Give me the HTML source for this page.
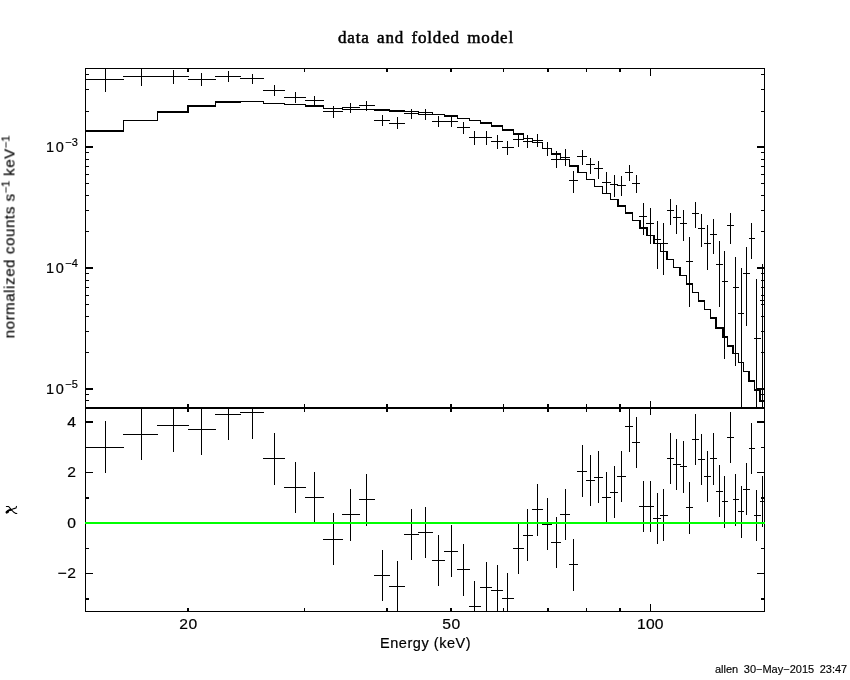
<!DOCTYPE html>
<html><head><meta charset="utf-8"><title>data and folded model</title>
<style>
html,body{margin:0;padding:0;background:#fff;}
body{width:850px;height:680px;position:relative;overflow:hidden;font-family:"Liberation Sans",sans-serif;color:#000;}
svg{position:absolute;left:0;top:0;}
.t{position:absolute;white-space:nowrap;line-height:1;font-size:14.5px;-webkit-text-stroke:0.2px #000;will-change:transform;}
.d{letter-spacing:0.5px;transform:scaleX(1.08);transform-origin:100% 50%;}
.c{transform-origin:50% 50%;}
.p{letter-spacing:1.6px;transform:none;}
sup.s2{top:-5px;}
.r{text-align:right;}
sup{font-size:11px;vertical-align:baseline;position:relative;top:-6px;left:0px;line-height:0;letter-spacing:0;}
</style></head><body>
<svg width="850" height="680" viewBox="0 0 850 680" shape-rendering="crispEdges" fill="#000">
<rect x="85" y="68" width="680" height="1"/>
<rect x="85" y="611" width="680" height="1"/>
<rect x="85" y="68" width="1" height="544"/>
<rect x="764" y="68" width="1" height="544"/>
<rect x="85" y="407" width="680" height="2"/>
<rect x="187" y="68" width="2" height="4"/>
<rect x="187" y="404" width="2" height="8"/>
<rect x="187" y="608" width="2" height="4"/>
<rect x="304" y="68" width="1" height="4"/>
<rect x="304" y="404" width="1" height="8"/>
<rect x="304" y="608" width="1" height="4"/>
<rect x="386" y="68" width="2" height="4"/>
<rect x="386" y="404" width="2" height="8"/>
<rect x="386" y="608" width="2" height="4"/>
<rect x="450" y="68" width="2" height="4"/>
<rect x="450" y="404" width="2" height="8"/>
<rect x="450" y="608" width="2" height="4"/>
<rect x="503" y="68" width="1" height="4"/>
<rect x="503" y="404" width="1" height="8"/>
<rect x="503" y="608" width="1" height="4"/>
<rect x="547" y="68" width="2" height="4"/>
<rect x="547" y="404" width="2" height="8"/>
<rect x="547" y="608" width="2" height="4"/>
<rect x="586" y="68" width="1" height="4"/>
<rect x="586" y="404" width="1" height="8"/>
<rect x="586" y="608" width="1" height="4"/>
<rect x="619" y="68" width="2" height="4"/>
<rect x="619" y="404" width="2" height="8"/>
<rect x="619" y="608" width="2" height="4"/>
<rect x="650" y="68" width="1" height="8"/>
<rect x="650" y="401" width="1" height="14"/>
<rect x="650" y="604" width="1" height="8"/>
<rect x="85" y="400" width="4" height="1"/>
<rect x="761" y="400" width="4" height="1"/>
<rect x="85" y="394" width="4" height="1"/>
<rect x="761" y="394" width="4" height="1"/>
<rect x="85" y="388" width="8" height="2"/>
<rect x="757" y="388" width="8" height="2"/>
<rect x="85" y="352" width="4" height="1"/>
<rect x="761" y="352" width="4" height="1"/>
<rect x="85" y="331" width="4" height="1"/>
<rect x="761" y="331" width="4" height="1"/>
<rect x="85" y="316" width="4" height="1"/>
<rect x="761" y="316" width="4" height="1"/>
<rect x="85" y="304" width="4" height="1"/>
<rect x="761" y="304" width="4" height="1"/>
<rect x="85" y="295" width="4" height="1"/>
<rect x="761" y="295" width="4" height="1"/>
<rect x="85" y="287" width="4" height="1"/>
<rect x="761" y="287" width="4" height="1"/>
<rect x="85" y="280" width="4" height="1"/>
<rect x="761" y="280" width="4" height="1"/>
<rect x="85" y="273" width="4" height="1"/>
<rect x="761" y="273" width="4" height="1"/>
<rect x="85" y="267" width="8" height="2"/>
<rect x="757" y="267" width="8" height="2"/>
<rect x="85" y="231" width="4" height="1"/>
<rect x="761" y="231" width="4" height="1"/>
<rect x="85" y="210" width="4" height="1"/>
<rect x="761" y="210" width="4" height="1"/>
<rect x="85" y="195" width="4" height="1"/>
<rect x="761" y="195" width="4" height="1"/>
<rect x="85" y="183" width="4" height="1"/>
<rect x="761" y="183" width="4" height="1"/>
<rect x="85" y="174" width="4" height="1"/>
<rect x="761" y="174" width="4" height="1"/>
<rect x="85" y="166" width="4" height="1"/>
<rect x="761" y="166" width="4" height="1"/>
<rect x="85" y="159" width="4" height="1"/>
<rect x="761" y="159" width="4" height="1"/>
<rect x="85" y="152" width="4" height="1"/>
<rect x="761" y="152" width="4" height="1"/>
<rect x="85" y="146" width="8" height="2"/>
<rect x="757" y="146" width="8" height="2"/>
<rect x="85" y="111" width="4" height="1"/>
<rect x="761" y="111" width="4" height="1"/>
<rect x="85" y="89" width="4" height="1"/>
<rect x="761" y="89" width="4" height="1"/>
<rect x="85" y="74" width="4" height="1"/>
<rect x="761" y="74" width="4" height="1"/>
<rect x="85" y="598" width="4" height="2"/>
<rect x="761" y="598" width="4" height="2"/>
<rect x="85" y="573" width="8" height="1"/>
<rect x="757" y="573" width="8" height="1"/>
<rect x="85" y="548" width="4" height="1"/>
<rect x="761" y="548" width="4" height="1"/>
<rect x="85" y="522" width="8" height="1"/>
<rect x="757" y="522" width="8" height="1"/>
<rect x="85" y="497" width="4" height="2"/>
<rect x="761" y="497" width="4" height="2"/>
<rect x="85" y="472" width="8" height="1"/>
<rect x="757" y="472" width="8" height="1"/>
<rect x="85" y="447" width="4" height="1"/>
<rect x="761" y="447" width="4" height="1"/>
<rect x="85" y="421" width="8" height="2"/>
<rect x="757" y="421" width="8" height="2"/>
<rect x="85" y="130" width="39" height="2"/>
<rect x="123" y="120" width="1" height="12"/>
<rect x="123" y="120" width="35" height="1"/>
<rect x="157" y="111" width="1" height="10"/>
<rect x="157" y="111" width="32" height="2"/>
<rect x="187" y="105" width="2" height="8"/>
<rect x="188" y="105" width="28" height="2"/>
<rect x="215" y="101" width="1" height="6"/>
<rect x="215" y="101" width="26" height="2"/>
<rect x="240" y="101" width="1" height="1"/>
<rect x="240" y="101" width="24" height="1"/>
<rect x="263" y="101" width="1" height="3"/>
<rect x="263" y="103" width="22" height="1"/>
<rect x="284" y="103" width="1" height="2"/>
<rect x="284" y="104" width="22" height="1"/>
<rect x="305" y="104" width="1" height="3"/>
<rect x="305" y="105" width="19" height="2"/>
<rect x="323" y="105" width="1" height="4"/>
<rect x="323" y="108" width="20" height="1"/>
<rect x="342" y="108" width="1" height="2"/>
<rect x="342" y="109" width="18" height="1"/>
<rect x="359" y="109" width="1" height="1"/>
<rect x="359" y="109" width="16" height="1"/>
<rect x="374" y="109" width="1" height="2"/>
<rect x="374" y="109" width="16" height="2"/>
<rect x="389" y="109" width="1" height="3"/>
<rect x="389" y="110" width="16" height="2"/>
<rect x="404" y="110" width="1" height="2"/>
<rect x="404" y="111" width="15" height="1"/>
<rect x="418" y="111" width="1" height="2"/>
<rect x="418" y="112" width="15" height="1"/>
<rect x="432" y="112" width="1" height="3"/>
<rect x="432" y="114" width="13" height="1"/>
<rect x="444" y="114" width="1" height="3"/>
<rect x="444" y="115" width="14" height="2"/>
<rect x="457" y="115" width="1" height="4"/>
<rect x="457" y="118" width="13" height="1"/>
<rect x="469" y="118" width="1" height="3"/>
<rect x="469" y="120" width="12" height="1"/>
<rect x="480" y="120" width="1" height="4"/>
<rect x="480" y="122" width="12" height="2"/>
<rect x="491" y="122" width="1" height="5"/>
<rect x="491" y="125" width="12" height="2"/>
<rect x="502" y="125" width="1" height="6"/>
<rect x="502" y="129" width="12" height="2"/>
<rect x="513" y="129" width="1" height="6"/>
<rect x="513" y="133" width="11" height="2"/>
<rect x="523" y="133" width="1" height="6"/>
<rect x="523" y="138" width="10" height="1"/>
<rect x="532" y="138" width="1" height="5"/>
<rect x="532" y="142" width="11" height="1"/>
<rect x="542" y="142" width="1" height="7"/>
<rect x="542" y="148" width="10" height="1"/>
<rect x="551" y="148" width="1" height="7"/>
<rect x="551" y="153" width="10" height="2"/>
<rect x="560" y="153" width="1" height="7"/>
<rect x="560" y="159" width="10" height="1"/>
<rect x="569" y="159" width="1" height="8"/>
<rect x="569" y="165" width="9" height="2"/>
<rect x="577" y="165" width="2" height="8"/>
<rect x="577" y="172" width="10" height="1"/>
<rect x="586" y="172" width="1" height="8"/>
<rect x="586" y="179" width="9" height="1"/>
<rect x="594" y="179" width="1" height="8"/>
<rect x="594" y="186" width="9" height="1"/>
<rect x="602" y="186" width="1" height="8"/>
<rect x="602" y="193" width="9" height="1"/>
<rect x="610" y="193" width="1" height="7"/>
<rect x="610" y="199" width="8" height="1"/>
<rect x="617" y="199" width="2" height="8"/>
<rect x="617" y="205" width="9" height="2"/>
<rect x="625" y="205" width="1" height="9"/>
<rect x="625" y="212" width="8" height="2"/>
<rect x="632" y="212" width="1" height="9"/>
<rect x="632" y="220" width="8" height="1"/>
<rect x="639" y="220" width="2" height="9"/>
<rect x="639" y="227" width="8" height="2"/>
<rect x="646" y="227" width="2" height="9"/>
<rect x="646" y="235" width="8" height="1"/>
<rect x="653" y="235" width="2" height="9"/>
<rect x="653" y="243" width="8" height="1"/>
<rect x="660" y="243" width="1" height="9"/>
<rect x="660" y="251" width="8" height="1"/>
<rect x="666" y="251" width="2" height="9"/>
<rect x="667" y="259" width="7" height="1"/>
<rect x="673" y="259" width="1" height="9"/>
<rect x="673" y="267" width="8" height="1"/>
<rect x="679" y="267" width="2" height="9"/>
<rect x="680" y="275" width="7" height="1"/>
<rect x="686" y="275" width="1" height="10"/>
<rect x="686" y="283" width="7" height="2"/>
<rect x="692" y="283" width="1" height="10"/>
<rect x="692" y="292" width="7" height="1"/>
<rect x="698" y="292" width="1" height="10"/>
<rect x="698" y="300" width="7" height="2"/>
<rect x="704" y="300" width="1" height="10"/>
<rect x="704" y="309" width="7" height="1"/>
<rect x="710" y="309" width="1" height="10"/>
<rect x="710" y="317" width="7" height="2"/>
<rect x="715" y="317" width="2" height="12"/>
<rect x="716" y="327" width="7" height="2"/>
<rect x="722" y="327" width="2" height="11"/>
<rect x="722" y="336" width="6" height="2"/>
<rect x="727" y="336" width="1" height="11"/>
<rect x="727" y="345" width="7" height="2"/>
<rect x="732" y="345" width="2" height="9"/>
<rect x="733" y="353" width="6" height="1"/>
<rect x="738" y="353" width="1" height="10"/>
<rect x="738" y="362" width="6" height="1"/>
<rect x="743" y="362" width="1" height="10"/>
<rect x="743" y="371" width="7" height="1"/>
<rect x="748" y="371" width="2" height="11"/>
<rect x="749" y="380" width="6" height="2"/>
<rect x="754" y="380" width="1" height="11"/>
<rect x="754" y="389" width="7" height="2"/>
<rect x="759" y="389" width="2" height="13"/>
<rect x="760" y="400" width="5" height="2"/>
<rect x="85" y="79" width="39" height="1"/>
<rect x="105" y="69" width="1" height="23"/>
<rect x="123" y="76" width="35" height="1"/>
<rect x="141" y="69" width="1" height="17"/>
<rect x="157" y="76" width="32" height="1"/>
<rect x="173" y="70" width="1" height="14"/>
<rect x="188" y="79" width="28" height="1"/>
<rect x="201" y="73" width="1" height="13"/>
<rect x="215" y="76" width="26" height="1"/>
<rect x="228" y="71" width="1" height="11"/>
<rect x="240" y="78" width="24" height="1"/>
<rect x="252" y="74" width="1" height="10"/>
<rect x="263" y="90" width="22" height="1"/>
<rect x="274" y="85" width="1" height="11"/>
<rect x="284" y="97" width="22" height="1"/>
<rect x="295" y="92" width="1" height="11"/>
<rect x="305" y="100" width="19" height="1"/>
<rect x="314" y="96" width="1" height="10"/>
<rect x="323" y="111" width="20" height="1"/>
<rect x="333" y="106" width="1" height="12"/>
<rect x="342" y="107" width="18" height="1"/>
<rect x="350" y="103" width="1" height="10"/>
<rect x="359" y="105" width="16" height="1"/>
<rect x="366" y="101" width="1" height="10"/>
<rect x="374" y="120" width="16" height="1"/>
<rect x="382" y="115" width="1" height="11"/>
<rect x="389" y="123" width="16" height="1"/>
<rect x="397" y="117" width="1" height="12"/>
<rect x="404" y="113" width="15" height="1"/>
<rect x="411" y="109" width="1" height="10"/>
<rect x="418" y="114" width="15" height="1"/>
<rect x="425" y="109" width="1" height="11"/>
<rect x="432" y="121" width="13" height="1"/>
<rect x="438" y="116" width="1" height="11"/>
<rect x="444" y="121" width="14" height="1"/>
<rect x="451" y="116" width="1" height="11"/>
<rect x="457" y="127" width="13" height="1"/>
<rect x="463" y="122" width="1" height="12"/>
<rect x="469" y="137" width="12" height="1"/>
<rect x="474" y="131" width="1" height="14"/>
<rect x="480" y="137" width="12" height="1"/>
<rect x="486" y="131" width="1" height="14"/>
<rect x="491" y="141" width="12" height="1"/>
<rect x="497" y="135" width="1" height="14"/>
<rect x="502" y="147" width="12" height="1"/>
<rect x="507" y="141" width="1" height="14"/>
<rect x="513" y="139" width="11" height="1"/>
<rect x="518" y="133" width="1" height="14"/>
<rect x="523" y="141" width="10" height="1"/>
<rect x="527" y="135" width="1" height="13"/>
<rect x="532" y="140" width="11" height="1"/>
<rect x="537" y="134" width="1" height="13"/>
<rect x="542" y="148" width="10" height="1"/>
<rect x="547" y="142" width="1" height="14"/>
<rect x="551" y="159" width="10" height="1"/>
<rect x="556" y="151" width="1" height="17"/>
<rect x="560" y="157" width="10" height="1"/>
<rect x="565" y="149" width="1" height="17"/>
<rect x="569" y="180" width="9" height="1"/>
<rect x="573" y="171" width="1" height="22"/>
<rect x="577" y="156" width="10" height="1"/>
<rect x="582" y="150" width="1" height="15"/>
<rect x="586" y="164" width="9" height="1"/>
<rect x="590" y="158" width="1" height="16"/>
<rect x="594" y="168" width="9" height="1"/>
<rect x="598" y="161" width="1" height="18"/>
<rect x="602" y="182" width="9" height="1"/>
<rect x="606" y="172" width="1" height="21"/>
<rect x="610" y="184" width="8" height="1"/>
<rect x="614" y="175" width="1" height="22"/>
<rect x="617" y="185" width="9" height="1"/>
<rect x="621" y="176" width="1" height="20"/>
<rect x="625" y="172" width="8" height="1"/>
<rect x="629" y="165" width="1" height="16"/>
<rect x="632" y="183" width="8" height="1"/>
<rect x="636" y="175" width="1" height="18"/>
<rect x="639" y="216" width="8" height="1"/>
<rect x="643" y="203" width="1" height="32"/>
<rect x="646" y="223" width="8" height="1"/>
<rect x="650" y="208" width="1" height="36"/>
<rect x="653" y="239" width="8" height="1"/>
<rect x="657" y="221" width="1" height="48"/>
<rect x="660" y="243" width="8" height="1"/>
<rect x="663" y="223" width="1" height="52"/>
<rect x="667" y="210" width="7" height="1"/>
<rect x="670" y="199" width="1" height="26"/>
<rect x="673" y="217" width="8" height="1"/>
<rect x="676" y="205" width="1" height="29"/>
<rect x="680" y="223" width="7" height="1"/>
<rect x="683" y="210" width="1" height="31"/>
<rect x="686" y="261" width="7" height="1"/>
<rect x="689" y="237" width="1" height="70"/>
<rect x="692" y="213" width="7" height="1"/>
<rect x="695" y="202" width="1" height="26"/>
<rect x="698" y="228" width="7" height="1"/>
<rect x="701" y="214" width="1" height="33"/>
<rect x="704" y="243" width="7" height="1"/>
<rect x="707" y="225" width="1" height="45"/>
<rect x="710" y="234" width="7" height="1"/>
<rect x="713" y="219" width="1" height="35"/>
<rect x="716" y="264" width="7" height="1"/>
<rect x="719" y="241" width="1" height="66"/>
<rect x="722" y="281" width="6" height="1"/>
<rect x="724" y="251" width="1" height="108"/>
<rect x="727" y="225" width="7" height="1"/>
<rect x="730" y="213" width="1" height="31"/>
<rect x="733" y="287" width="6" height="1"/>
<rect x="735" y="257" width="1" height="109"/>
<rect x="738" y="313" width="6" height="1"/>
<rect x="741" y="268" width="1" height="140"/>
<rect x="743" y="273" width="7" height="1"/>
<rect x="746" y="247" width="1" height="79"/>
<rect x="749" y="238" width="6" height="1"/>
<rect x="751" y="223" width="1" height="36"/>
<rect x="754" y="338" width="7" height="1"/>
<rect x="756" y="279" width="1" height="129"/>
<rect x="760" y="300" width="5" height="1"/>
<rect x="762" y="264" width="1" height="144"/>
<rect x="85" y="447" width="39" height="1"/>
<rect x="105" y="421" width="1" height="52"/>
<rect x="123" y="434" width="35" height="1"/>
<rect x="141" y="408" width="1" height="52"/>
<rect x="157" y="425" width="32" height="1"/>
<rect x="173" y="408" width="1" height="44"/>
<rect x="188" y="429" width="28" height="1"/>
<rect x="201" y="408" width="1" height="47"/>
<rect x="215" y="414" width="26" height="1"/>
<rect x="228" y="408" width="1" height="32"/>
<rect x="240" y="412" width="24" height="1"/>
<rect x="252" y="408" width="1" height="31"/>
<rect x="263" y="458" width="22" height="1"/>
<rect x="274" y="433" width="1" height="52"/>
<rect x="284" y="487" width="22" height="1"/>
<rect x="295" y="462" width="1" height="51"/>
<rect x="305" y="497" width="19" height="1"/>
<rect x="314" y="472" width="1" height="51"/>
<rect x="323" y="539" width="20" height="1"/>
<rect x="333" y="513" width="1" height="52"/>
<rect x="342" y="514" width="18" height="1"/>
<rect x="350" y="489" width="1" height="52"/>
<rect x="359" y="499" width="16" height="1"/>
<rect x="366" y="474" width="1" height="52"/>
<rect x="374" y="575" width="16" height="1"/>
<rect x="382" y="550" width="1" height="51"/>
<rect x="389" y="586" width="16" height="1"/>
<rect x="397" y="561" width="1" height="51"/>
<rect x="404" y="534" width="15" height="1"/>
<rect x="411" y="509" width="1" height="51"/>
<rect x="418" y="532" width="15" height="1"/>
<rect x="425" y="507" width="1" height="51"/>
<rect x="432" y="560" width="13" height="1"/>
<rect x="438" y="535" width="1" height="51"/>
<rect x="444" y="551" width="14" height="1"/>
<rect x="451" y="525" width="1" height="52"/>
<rect x="457" y="569" width="13" height="1"/>
<rect x="463" y="544" width="1" height="52"/>
<rect x="469" y="606" width="12" height="1"/>
<rect x="474" y="581" width="1" height="31"/>
<rect x="480" y="587" width="12" height="1"/>
<rect x="486" y="562" width="1" height="50"/>
<rect x="491" y="590" width="12" height="1"/>
<rect x="497" y="565" width="1" height="47"/>
<rect x="502" y="598" width="12" height="1"/>
<rect x="507" y="573" width="1" height="39"/>
<rect x="513" y="548" width="11" height="1"/>
<rect x="518" y="523" width="1" height="51"/>
<rect x="523" y="535" width="10" height="1"/>
<rect x="527" y="509" width="1" height="52"/>
<rect x="532" y="509" width="11" height="1"/>
<rect x="537" y="484" width="1" height="52"/>
<rect x="542" y="524" width="10" height="1"/>
<rect x="547" y="498" width="1" height="52"/>
<rect x="551" y="542" width="10" height="1"/>
<rect x="556" y="517" width="1" height="51"/>
<rect x="560" y="514" width="10" height="1"/>
<rect x="565" y="489" width="1" height="51"/>
<rect x="569" y="564" width="9" height="1"/>
<rect x="573" y="539" width="1" height="52"/>
<rect x="577" y="471" width="10" height="1"/>
<rect x="582" y="445" width="1" height="52"/>
<rect x="586" y="480" width="9" height="1"/>
<rect x="590" y="455" width="1" height="51"/>
<rect x="594" y="477" width="9" height="1"/>
<rect x="598" y="451" width="1" height="52"/>
<rect x="602" y="497" width="9" height="1"/>
<rect x="606" y="472" width="1" height="51"/>
<rect x="610" y="492" width="8" height="1"/>
<rect x="614" y="466" width="1" height="52"/>
<rect x="617" y="476" width="9" height="1"/>
<rect x="621" y="451" width="1" height="51"/>
<rect x="625" y="426" width="8" height="1"/>
<rect x="629" y="408" width="1" height="44"/>
<rect x="632" y="442" width="8" height="1"/>
<rect x="636" y="417" width="1" height="51"/>
<rect x="639" y="506" width="8" height="1"/>
<rect x="643" y="481" width="1" height="51"/>
<rect x="646" y="506" width="8" height="1"/>
<rect x="650" y="481" width="1" height="51"/>
<rect x="653" y="518" width="8" height="1"/>
<rect x="657" y="493" width="1" height="51"/>
<rect x="660" y="515" width="8" height="1"/>
<rect x="663" y="489" width="1" height="52"/>
<rect x="667" y="458" width="7" height="1"/>
<rect x="670" y="433" width="1" height="51"/>
<rect x="673" y="464" width="8" height="1"/>
<rect x="676" y="439" width="1" height="51"/>
<rect x="680" y="466" width="7" height="1"/>
<rect x="683" y="441" width="1" height="52"/>
<rect x="686" y="507" width="7" height="1"/>
<rect x="689" y="482" width="1" height="52"/>
<rect x="692" y="439" width="7" height="1"/>
<rect x="695" y="414" width="1" height="51"/>
<rect x="698" y="459" width="7" height="1"/>
<rect x="701" y="434" width="1" height="51"/>
<rect x="704" y="476" width="7" height="1"/>
<rect x="707" y="451" width="1" height="51"/>
<rect x="710" y="458" width="7" height="1"/>
<rect x="713" y="433" width="1" height="52"/>
<rect x="716" y="491" width="7" height="1"/>
<rect x="719" y="465" width="1" height="52"/>
<rect x="722" y="501" width="6" height="1"/>
<rect x="724" y="476" width="1" height="52"/>
<rect x="727" y="437" width="7" height="1"/>
<rect x="730" y="412" width="1" height="51"/>
<rect x="733" y="499" width="6" height="1"/>
<rect x="735" y="474" width="1" height="52"/>
<rect x="738" y="511" width="6" height="1"/>
<rect x="741" y="486" width="1" height="52"/>
<rect x="743" y="489" width="7" height="1"/>
<rect x="746" y="463" width="1" height="52"/>
<rect x="749" y="448" width="6" height="1"/>
<rect x="751" y="423" width="1" height="51"/>
<rect x="754" y="515" width="7" height="1"/>
<rect x="756" y="490" width="1" height="51"/>
<rect x="760" y="501" width="5" height="1"/>
<rect x="762" y="476" width="1" height="51"/>
<rect x="85" y="522" width="680" height="2" fill="#00ff00"/>
<g shape-rendering="auto" fill="none" stroke="#000" stroke-linecap="round" stroke-linejoin="round">
<path d="M6.4 506.5 L8.6 506.5 L10.2 508.4 L11 509.6" stroke-width="1.1"/>
<path d="M7 512 L8.6 510.4 L11 509.8" stroke-width="2"/>
<path d="M6.8 512.3 L7.8 511.6" stroke-width="2.6"/>
<path d="M11 509.7 L14 508.6 L16 508 L16.5 506.4" stroke-width="1.1"/>
<path d="M11.5 509.8 L13.5 512 L15.5 513.4 L16.8 513.5" stroke-width="1.1"/>
</g>
</svg>
<div class="t" id="title" style="left:338px;top:29px;font-family:'Liberation Serif',serif;font-size:17px;letter-spacing:0.85px;word-spacing:2.2px;-webkit-text-stroke:0.5px #000;">data and folded model</div>
<div class="t r d p" id="y3" style="right:772px;top:139.5px;">10<sup>&#8722;3</sup></div>
<div class="t r d p" id="y4" style="right:772px;top:260.5px;">10<sup>&#8722;4</sup></div>
<div class="t r d p" id="y5" style="right:772px;top:381.5px;">10<sup>&#8722;5</sup></div>
<div class="t r d" id="c4" style="right:773.5px;top:415px;">4</div>
<div class="t r d" id="c2" style="right:773.5px;top:465px;">2</div>
<div class="t r d" id="c0" style="right:773.5px;top:516px;">0</div>
<div class="t r d" id="cm2" style="right:773.5px;top:566px;">&#8722;2</div>
<div class="t d c" id="x20" style="left:179.5px;top:617px;">20</div>
<div class="t d c" id="x50" style="left:442.5px;top:617px;">50</div>
<div class="t d c" id="x100" style="left:638px;letter-spacing:0.2px;top:617px;">100</div>
<div class="t" id="xl" style="left:380px;top:636px;letter-spacing:0.55px;">Energy (keV)</div>
<div class="t" id="yl" style="left:9px;top:237px;font-size:15px;transform:translate(-50%,-50%) rotate(-90deg);letter-spacing:0.62px;">normalized counts s<sup class="s2">&#8722;1</sup> keV<sup class="s2">&#8722;1</sup></div>
<div class="t" id="stamp" style="left:715px;top:664px;font-size:11px;letter-spacing:0px;word-spacing:2.5px;-webkit-text-stroke:0.15px #000;">allen 30&#8722;May&#8722;2015 23:47</div>
</body></html>
